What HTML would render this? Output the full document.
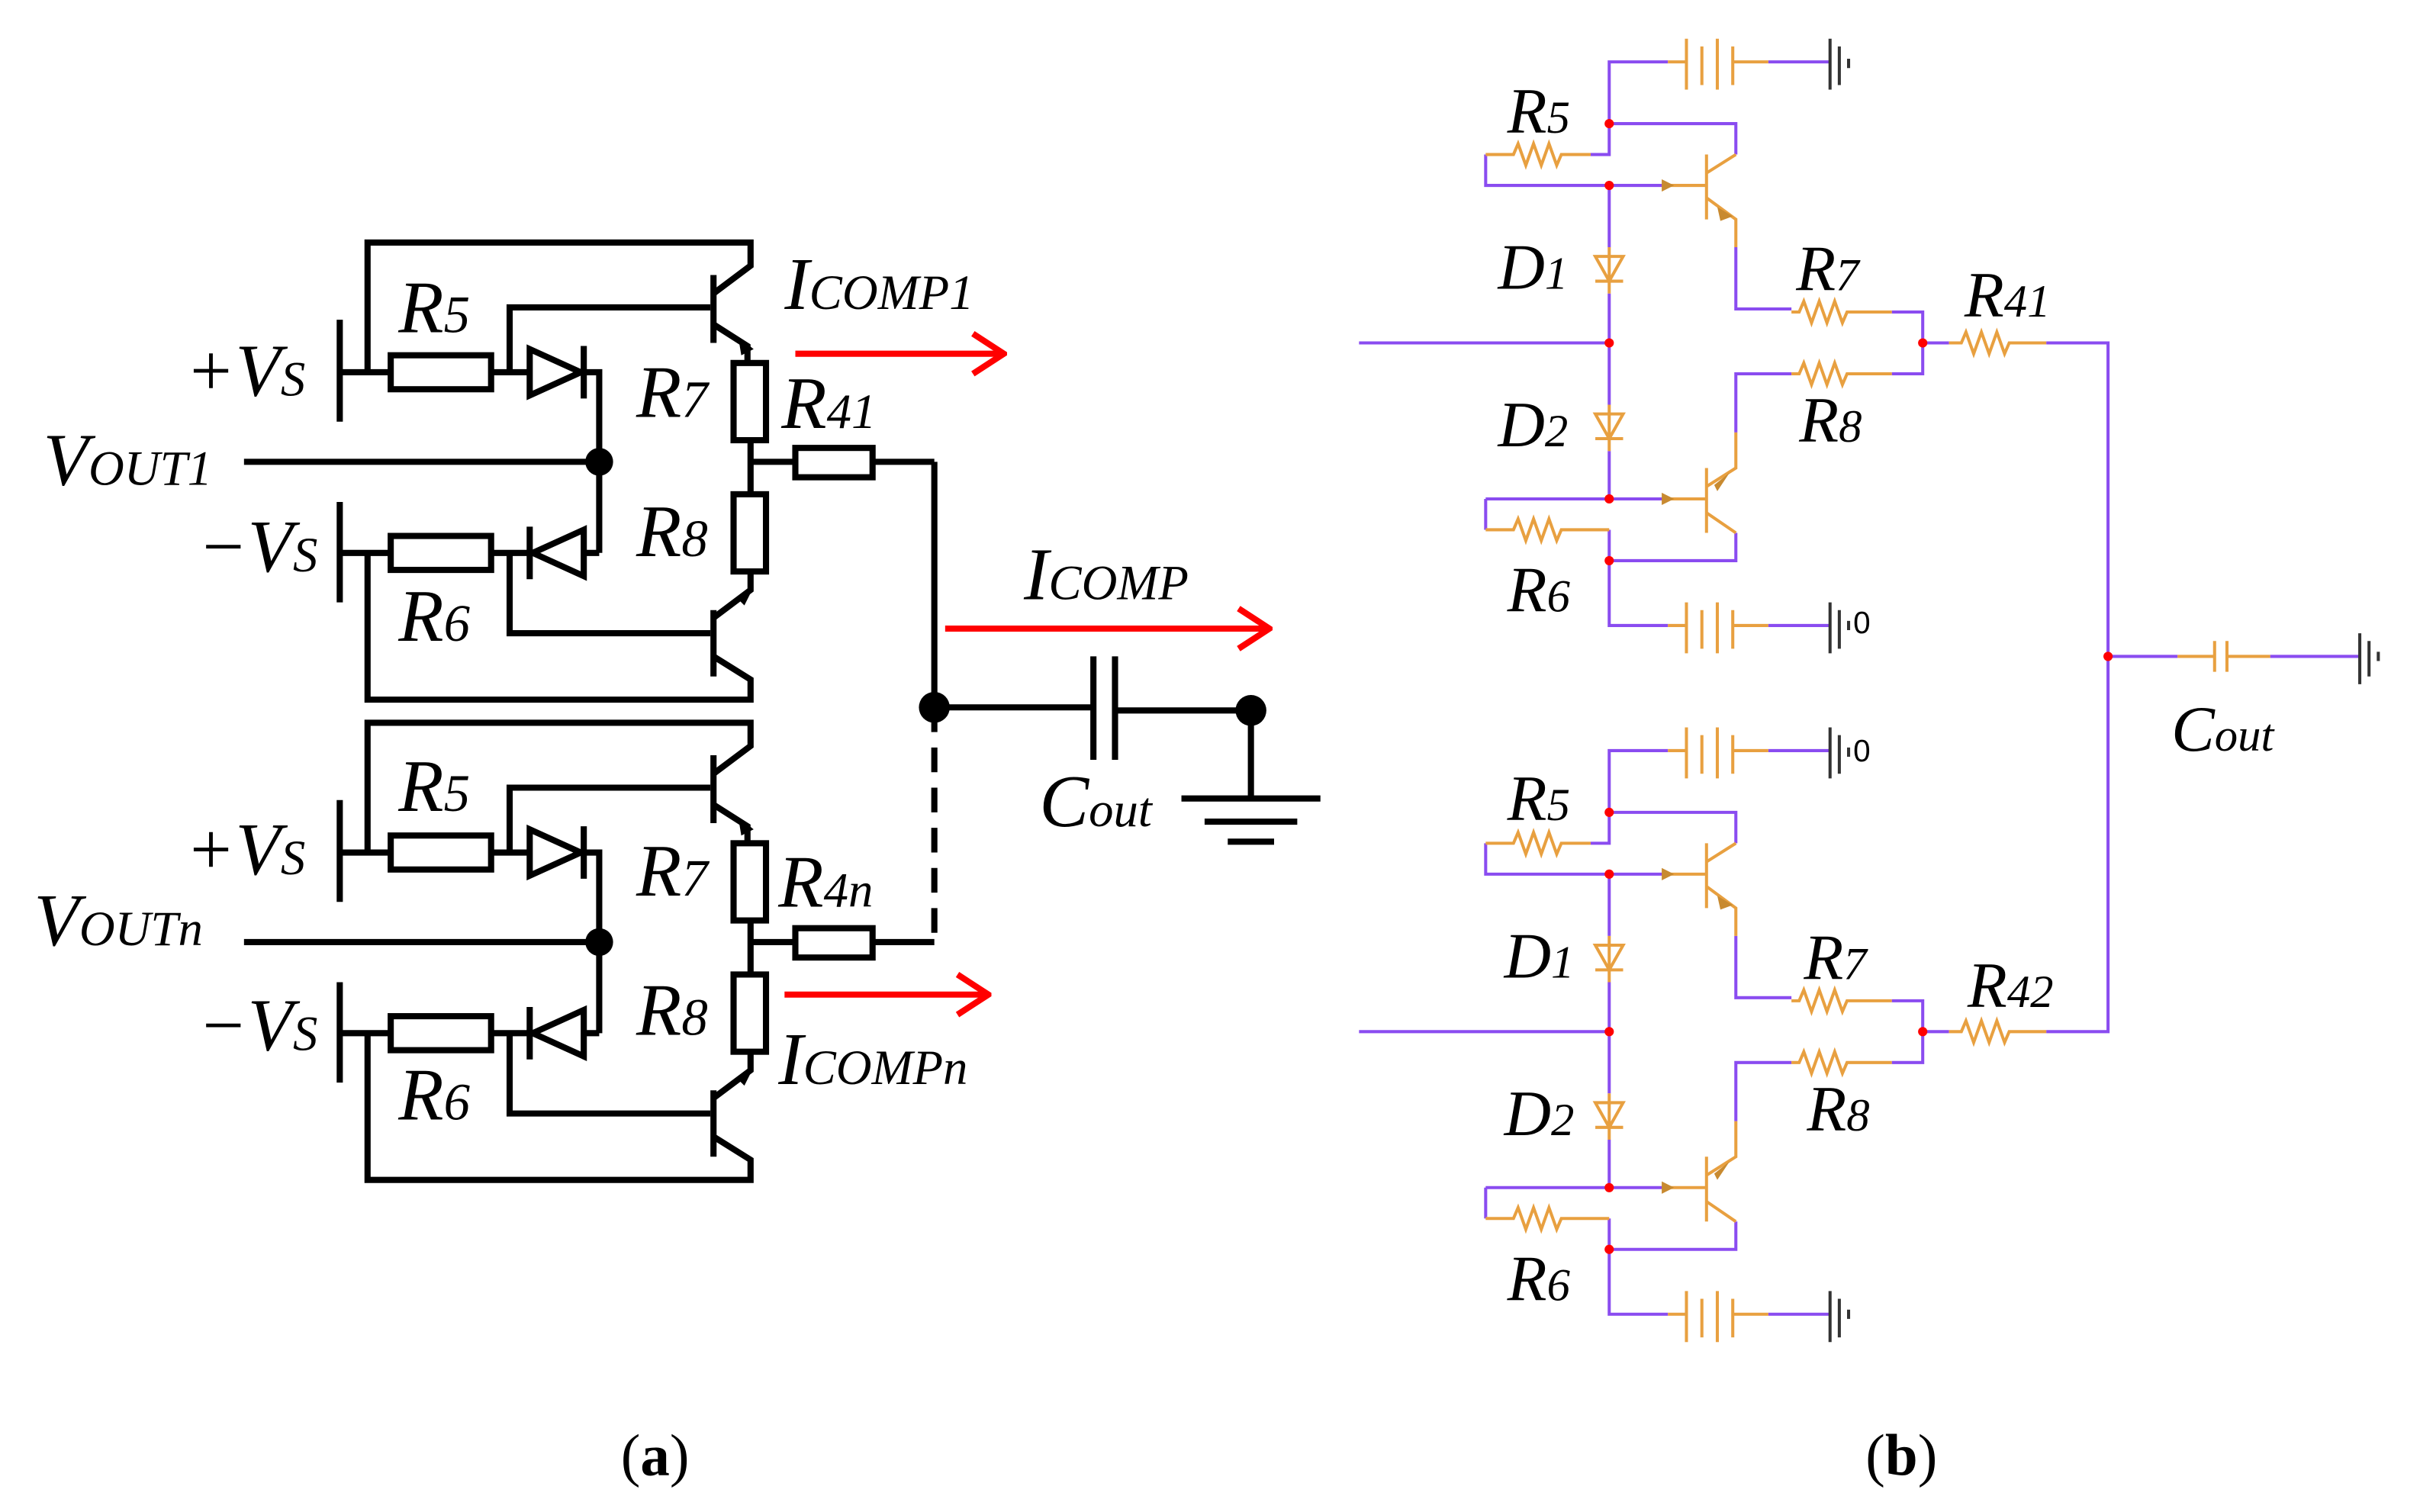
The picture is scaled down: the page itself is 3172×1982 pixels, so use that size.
<!DOCTYPE html>
<html><head><style>
html,body{margin:0;padding:0;background:#fff;}
svg{display:block;}
text{font-family:"Liberation Serif",serif;font-style:italic;fill:#000;}
</style></head><body>
<svg width="3172" height="1982" viewBox="0 0 1567 979" xmlns="http://www.w3.org/2000/svg">
<defs>
<marker id="ar" markerWidth="24" markerHeight="30" refX="22" refY="15" orient="auto" markerUnits="userSpaceOnUse">
<path d="M2,2 L22,15 L2,28" fill="none" stroke="#f00" stroke-width="4"/>
</marker>
<g id="blkA" fill="none" stroke="#000" stroke-width="4">
 <path d="M238,241 V157 H486 V172 L462,190"/>
 <path d="M238,358 V453 H486 V440 L462,425"/>
 <path d="M220,207 V273 M220,241 H253 M318,241 H343 M378,241 H388 V358 M330,241 V199 H460"/>
 <rect x="253" y="230" width="65" height="22"/>
 <path d="M343,226 V256 L376,241 Z" />
 <path d="M378,224 V258"/>
 <path d="M220,325 V390 M220,358 H253 M318,358 H343 M378,358 H388 M330,358 V410 H460"/>
 <rect x="253" y="347" width="65" height="22"/>
 <path d="M378,343 V373 L345,358 Z"/>
 <path d="M343,341 V375"/>
 <path d="M462,178 V222 M462,395 V438"/>
 <path d="M462,210 L484,224 V235 M486,285 V320 M486,370 V382 L462,400"/>
 <rect x="475" y="235" width="21" height="50"/>
 <rect x="475" y="320" width="21" height="50"/>
 <path d="M486,299 H515 M565,299 H605"/>
 <rect x="515" y="290" width="50" height="19"/>
 <path d="M158,299 H388"/>
</g>
</defs>
<use href="#blkA"/>
<use href="#blkA" transform="translate(0,311)"/>
<g fill="#000"><path d="M478,218 L488,226 L480,230Z"/><path d="M478,388 L488,380 L482,392Z"/>
<path d="M478,529 L488,537 L480,541Z"/><path d="M478,699 L488,691 L482,703Z"/>
<circle cx="388" cy="299" r="9"/><circle cx="388" cy="610" r="9"/>
<circle cx="605" cy="458" r="10"/><circle cx="810" cy="460" r="10"/></g>
<g fill="none" stroke="#000" stroke-width="4">
<path d="M605,299 V458 H708 M722,460 H810 V517"/>
<path d="M708,425 V492 M722,425 V492"/>
<path d="M765,517 H855 M780,532 H840 M795,545 H825"/>
<path d="M605,458 V612" stroke-dasharray="16,10"/>
</g>
<g fill="none" stroke="#f00" stroke-width="4">
<path d="M515,229 H650" marker-end="url(#ar)"/>
<path d="M612,407 H822" marker-end="url(#ar)"/>
<path d="M508,644 H640" marker-end="url(#ar)"/>
</g>
<g font-size="48">
<text x="120" y="256">+V<tspan font-size="32">S</tspan></text>
<text x="128" y="370">−V<tspan font-size="32">S</tspan></text>
<text x="120" y="566">+V<tspan font-size="32">S</tspan></text>
<text x="128" y="680">−V<tspan font-size="32">S</tspan></text>
<text x="28" y="314">V<tspan font-size="32">OUT1</tspan></text>
<text x="22" y="612">V<tspan font-size="32">OUTn</tspan></text>
<text x="258" y="215">R<tspan font-size="34">5</tspan></text>
<text x="258" y="415">R<tspan font-size="34">6</tspan></text>
<text x="258" y="525">R<tspan font-size="34">5</tspan></text>
<text x="258" y="725">R<tspan font-size="34">6</tspan></text>
<text x="412" y="270">R<tspan font-size="34">7</tspan></text>
<text x="412" y="360">R<tspan font-size="34">8</tspan></text>
<text x="412" y="580">R<tspan font-size="34">7</tspan></text>
<text x="412" y="670">R<tspan font-size="34">8</tspan></text>
<text x="506" y="277">R<tspan font-size="32">41</tspan></text>
<text x="504" y="587">R<tspan font-size="32">4n</tspan></text>
<text x="508" y="200">I<tspan font-size="32">COMP1</tspan></text>
<text x="663" y="388">I<tspan font-size="32">COMP</tspan></text>
<text x="504" y="702">I<tspan font-size="32">COMPn</tspan></text>
<text x="673" y="535">C<tspan font-size="32">out</tspan></text>
</g>
<g font-size="38">
<text x="402" y="955" style="font-style:normal">(<tspan font-weight="bold">a</tspan>)</text>
<text x="1208" y="955" style="font-style:normal">(<tspan font-weight="bold">b</tspan>)</text>
</g>
<defs>
<g id="blkB" fill="none" stroke-width="2">
 <g stroke="#8a4cf0">
  <path d="M1042,80 V40 H1080 M1145,40 H1185"/>
  <path d="M1042,80 H1124 V100 M1042,80 V100 H1030 M962,100 V120 H1080"/>
  <path d="M1042,120 V160 M1042,190 V262 M1042,292 V323"/>
  <path d="M1124,160 V200 H1160 M1225,202 H1245 V242 H1225 M1160,242 H1124 V280"/>
  <path d="M880,222 H1042 M1245,222 H1262"/>
  <path d="M962,323 H1080 M962,323 V343 M1042,343 V405 H1080 M1042,363 H1124 V345 M1145,405 H1185"/>
 </g>
 <g stroke="#e8a040">
  <path d="M1080,40 H1092 M1092,25 V58 M1102,30 V55 M1112,25 V58 M1122,30 V55 M1122,40 H1145"/>
  <path d="M1080,405 H1092 M1092,390 V423 M1102,395 V420 M1112,390 V423 M1122,395 V420 M1122,405 H1145"/>
  <path d="M962,100 H980 l3,-7 l5,14 l5,-14 l5,14 l5,-14 l5,14 l3,-7 H1030"/>
  <path d="M962,343 H980 l3,-7 l5,14 l5,-14 l5,14 l5,-14 l5,14 l3,-7 H1042"/>
  <path d="M1160,202 H1165 l3,-7 l5,14 l5,-14 l5,14 l5,-14 l5,14 l3,-7 H1225"/>
  <path d="M1160,242 H1165 l3,-7 l5,14 l5,-14 l5,14 l5,-14 l5,14 l3,-7 H1225"/>
  <path d="M1042,160 V190 M1033,166 H1051 L1042,182 Z M1033,182 H1051"/>
  <path d="M1042,262 V292 M1033,268 H1051 L1042,284 Z M1033,284 H1051"/>
  <path d="M1080,120 H1105 M1105,100 V142 M1105,112 L1124,100 M1105,128 L1124,142 V160"/>
  <path d="M1080,323 H1105 M1105,303 V345 M1105,315 L1124,303 V280 M1105,332 L1124,345"/>
 </g>
 <g fill="#c88a30"><path d="M1076,116 L1084,120 L1076,124Z"/><path d="M1076,319 L1084,323 L1076,327Z"/>
 <path d="M1112,134 L1122,140 L1114,143Z"/><path d="M1110,314 L1120,306 L1112,318Z"/></g>
 <g stroke="#333"><path d="M1185,25 V58 M1191,30 V55 M1197,38 V44"/><path d="M1185,390 V423 M1191,395 V420 M1197,402 V408"/></g>
 <g fill="#f00"><circle cx="1042" cy="80" r="3"/><circle cx="1042" cy="120" r="3"/><circle cx="1042" cy="222" r="3"/><circle cx="1042" cy="323" r="3"/><circle cx="1042" cy="363" r="3"/><circle cx="1245" cy="222" r="3"/></g>
</g>
</defs>
<use href="#blkB"/>
<use href="#blkB" transform="translate(0,446)"/>
<g fill="none" stroke-width="2">
<path stroke="#8a4cf0" d="M1325,222 H1365 V668 H1325 M1365,425 H1410 M1470,425 H1528"/>
<path stroke="#e8a040" d="M1262,222 H1270 l3,-7 l5,14 l5,-14 l5,14 l5,-14 l5,14 l3,-7 H1325 M1262,668 H1270 l3,-7 l5,14 l5,-14 l5,14 l5,-14 l5,14 l3,-7 H1325 M1410,425 H1434 M1434,415 V435 M1442,415 V435 M1442,425 H1470"/>
<path stroke="#333" d="M1528,410 V443 M1534,415 V438 M1540,422 V428"/>
</g>
<circle cx="1365" cy="425" r="3" fill="#f00"/>
<g font-size="42">
<text x="976" y="86">R<tspan font-size="30">5</tspan></text>
<text x="970" y="187">D<tspan font-size="30">1</tspan></text>
<text x="970" y="289">D<tspan font-size="30">2</tspan></text>
<text x="976" y="396">R<tspan font-size="30">6</tspan></text>
<text x="1163" y="188">R<tspan font-size="30">7</tspan></text>
<text x="1165" y="286">R<tspan font-size="30">8</tspan></text>
<text x="1272" y="205">R<tspan font-size="30">41</tspan></text>
<text x="976" y="531">R<tspan font-size="30">5</tspan></text>
<text x="974" y="633">D<tspan font-size="30">1</tspan></text>
<text x="974" y="735">D<tspan font-size="30">2</tspan></text>
<text x="976" y="842">R<tspan font-size="30">6</tspan></text>
<text x="1168" y="634">R<tspan font-size="30">7</tspan></text>
<text x="1170" y="732">R<tspan font-size="30">8</tspan></text>
<text x="1274" y="652">R<tspan font-size="30">42</tspan></text>
<text x="1406" y="486">C<tspan font-size="30">out</tspan></text>
</g>
<g font-size="20"><text x="1200" y="410" style="font-style:normal;font-family:'Liberation Sans'">0</text><text x="1200" y="493" style="font-style:normal;font-family:'Liberation Sans'">0</text></g>
</svg>
</body></html>
